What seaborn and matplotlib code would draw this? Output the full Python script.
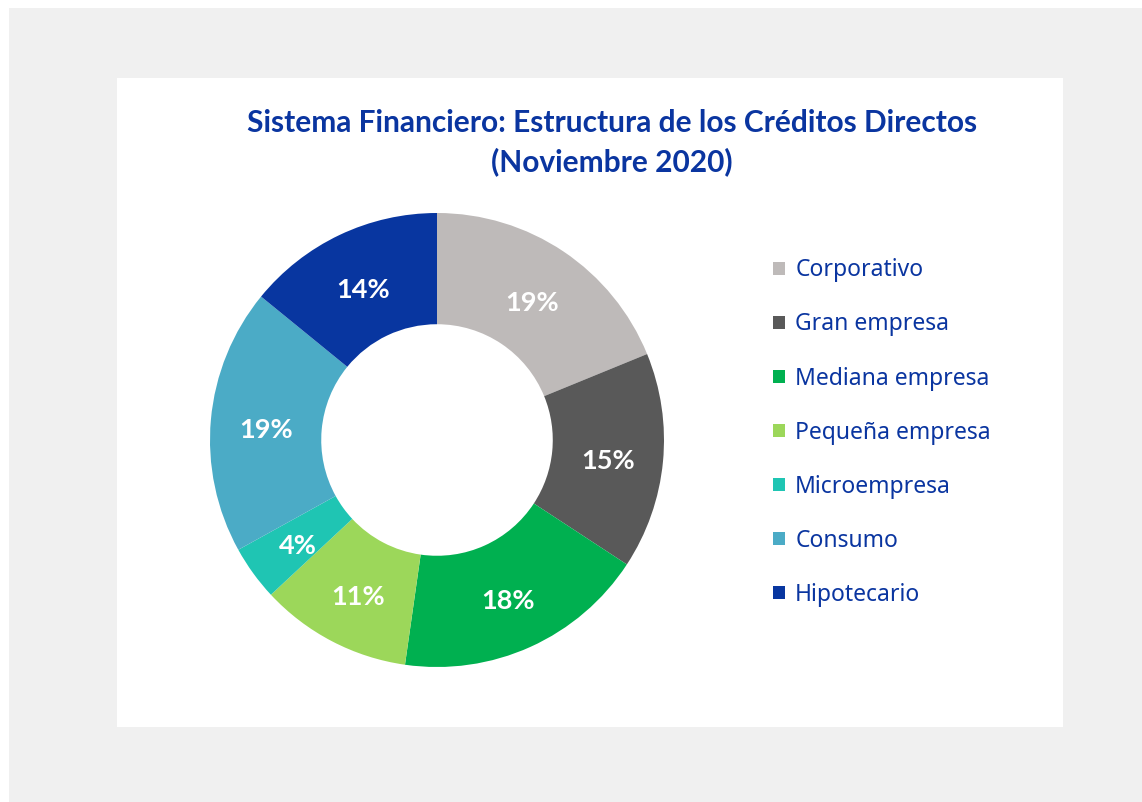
import numpy as np
import matplotlib
matplotlib.use('Agg')
import matplotlib.pyplot as plt
from matplotlib.patches import Rectangle
import seaborn as sns

# Datos (participación %)
categorias = ['Corporativo', 'Gran empresa', 'Mediana empresa', 'Pequeña empresa',
              'Microempresa', 'Consumo', 'Hipotecario']
valores = [18.8, 15.4, 18.0, 10.8, 3.9, 18.9, 14.1]
etiquetas = ['19%', '15%', '18%', '11%', '4%', '19%', '14%']
colores = ['#bebab9', '#595959', '#00b050', '#9cd75a', '#1fc5b3', '#4babc6', '#0836a0']

TITULO = 'Sistema Financiero: Estructura de los Créditos Directos\n(Noviembre 2020)'
AZUL = '#0a35a0'

sns.set_theme(style='white')
plt.rcParams['font.family'] = ['Lato', 'DejaVu Sans']

W, H = 1142, 802
fig = plt.figure(figsize=(W / 100, H / 100), dpi=100, facecolor='white')

# fondo gris y panel blanco
fig.patches.append(Rectangle((9 / W, 0), 1 - 9 / W, 1 - 8 / H, transform=fig.transFigure,
                             facecolor='#f0f0f0', edgecolor='none', zorder=-2))
fig.patches.append(Rectangle((117 / W, 1 - 727 / H), (1063 - 117) / W, (727 - 78) / H,
                             transform=fig.transFigure, facecolor='white',
                             edgecolor='none', zorder=-1))

cx, cy, R = 437, 440, 227
ax = fig.add_axes([(cx - R) / W, 1 - (cy + R) / H, 2 * R / W, 2 * R / H])
ax.set_facecolor('none')

pal = sns.color_palette(colores)
wedges, _ = ax.pie(valores, colors=pal, startangle=90, counterclock=False,
                   radius=1, wedgeprops=dict(width=0.49, linewidth=0))
for w, lab in zip(wedges, etiquetas):
    ang = np.deg2rad((w.theta1 + w.theta2) / 2)
    r = 0.755
    ax.text(r * np.cos(ang), r * np.sin(ang) - 0.022, lab, ha='center', va='center',
            color='white', fontsize=19.5, fontweight='bold')
ax.set_xlim(-1, 1); ax.set_ylim(-1, 1)
ax.set_aspect('equal')
ax.axis('off')

fig.text(612 / W, 1 - 143 / H, TITULO, ha='center', va='center', color=AZUL,
         fontsize=21.5, fontweight='bold', linespacing=1.42)

leg = ax.legend(wedges, categorias, loc='upper left',
                bbox_to_anchor=(762 / W, 1 - 247 / H), bbox_transform=fig.transFigure,
                frameon=False, prop=dict(family=['Noto Sans', 'DejaVu Sans'], size=16.5),
                labelcolor=AZUL, handlelength=0.5, handleheight=0.5,
                handletextpad=0.45, labelspacing=1.31, borderpad=0)

fig.savefig('out.png', dpi=100, facecolor='white')
